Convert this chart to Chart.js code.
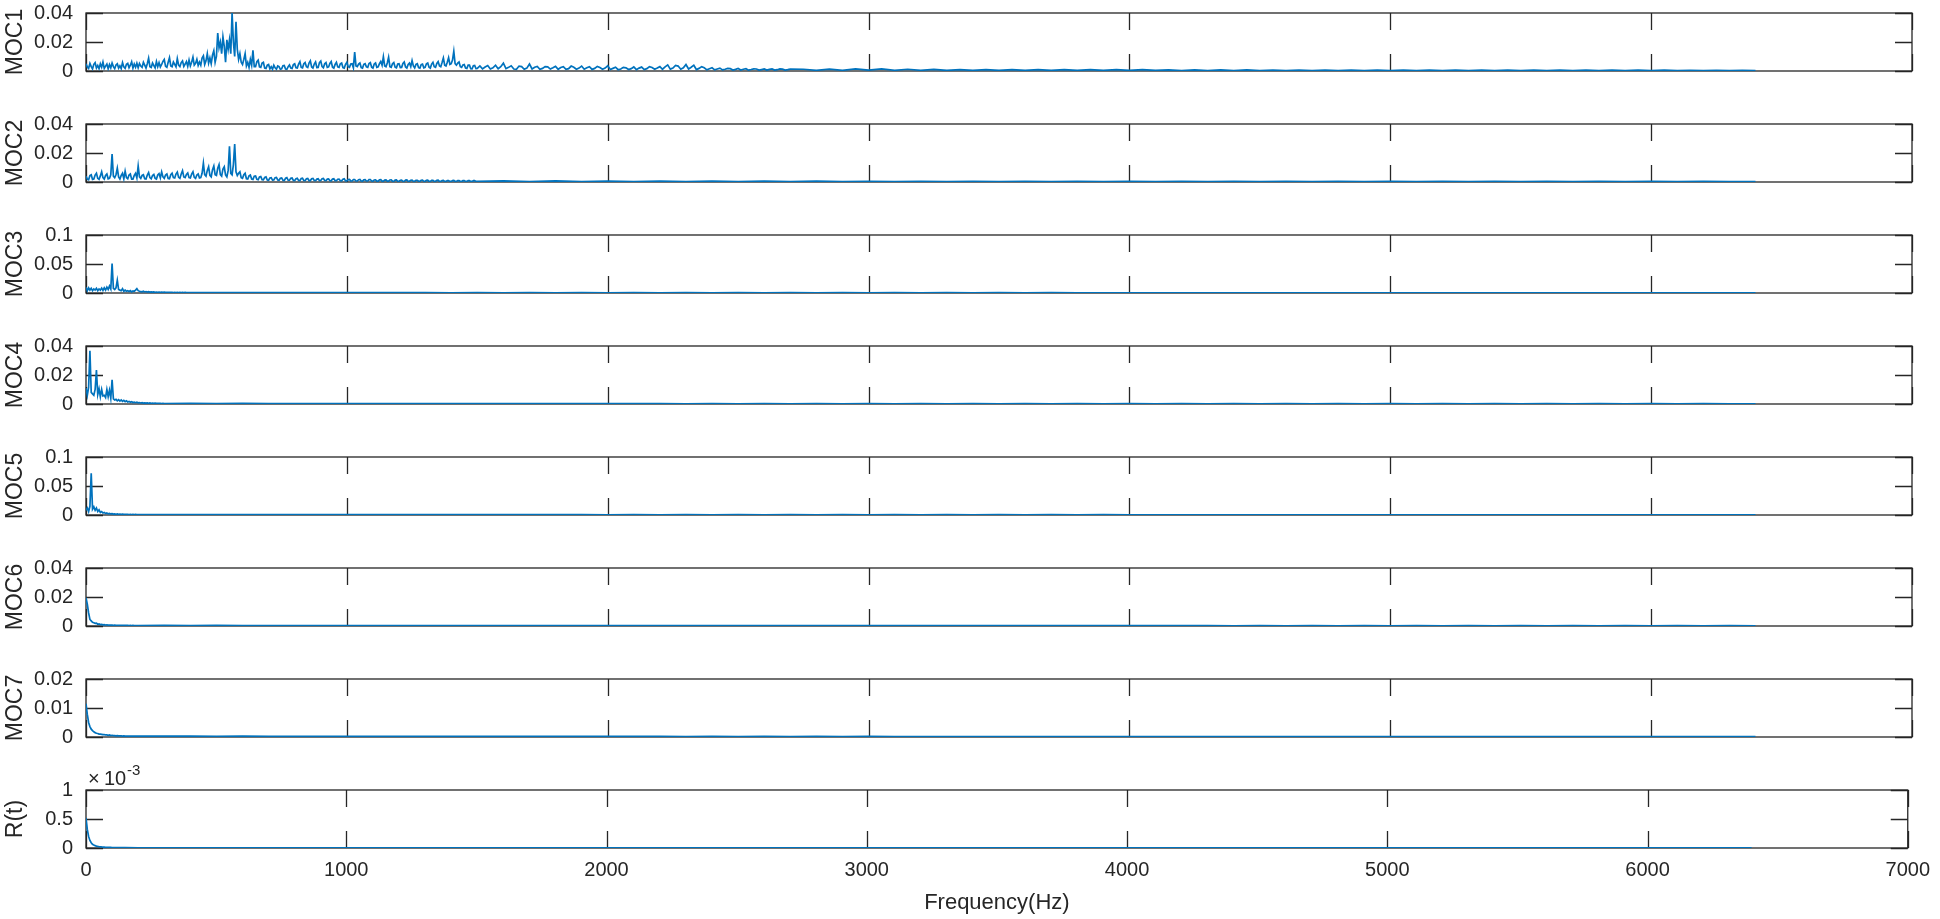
<!DOCTYPE html>
<html><head><meta charset="utf-8">
<script src="https://cdn.jsdelivr.net/npm/chart.js@4.4.1/dist/chart.umd.min.js"></script>
<style>
html,body{margin:0;padding:0;background:#fff;width:1940px;height:919px;overflow:hidden;position:relative}
.p{position:absolute;left:0;width:1940px}
canvas{display:block}
</style></head><body>
<script>
// ---------------- DATA ----------------
const panelLabels = ['MOC1','MOC2','MOC3','MOC4','MOC5','MOC6','MOC7','R(t)'];
const yMax  = [0.04, 0.04, 0.1, 0.04, 0.1, 0.04, 0.02, 1];
const yStep = [0.02, 0.02, 0.05, 0.02, 0.05, 0.02, 0.01, 0.5];
const xTickValues = [0,1000,2000,3000,4000,5000,6000,7000];
const xTitle = 'Frequency(Hz)';
const rtExponent = '-3';   // R(t) values are given in units of 10^-3

// MOC1: 0-1500 Hz every 5 Hz, 1510-2700 every 10 Hz, 2750-6400 every 50 Hz
const moc1A = [
0.0050,0.0028,0.0018,0.0052,0.0030,0.0014,0.0046,0.0058,0.0020,0.0038,
0.0016,0.0050,0.0026,0.0062,0.0018,0.0034,0.0048,0.0015,0.0044,0.0022,
0.0055,0.0030,0.0016,0.0042,0.0050,0.0020,0.0036,0.0017,0.0058,0.0028,
0.0018,0.0046,0.0052,0.0022,0.0040,0.0064,0.0020,0.0048,0.0026,0.0054,
0.0022,0.0052,0.0034,0.0025,0.0060,0.0040,0.0020,0.0050,0.0088,0.0030,
0.0025,0.0055,0.0038,0.0022,0.0065,0.0030,0.0058,0.0028,0.0045,0.0066,
0.0080,0.0032,0.0025,0.0060,0.0092,0.0035,0.0030,0.0062,0.0045,0.0028,
0.0085,0.0040,0.0030,0.0058,0.0070,0.0032,0.0048,0.0065,0.0032,0.0075,
0.0035,0.0060,0.0095,0.0040,0.0052,0.0080,0.0038,0.0062,0.0040,0.0090,
0.0105,0.0045,0.0070,0.0120,0.0055,0.0090,0.0050,0.0110,0.0140,0.0060,
0.0100,0.0262,0.0160,0.0200,0.0120,0.0235,0.0170,0.0060,0.0215,0.0150,
0.0215,0.0120,0.0400,0.0200,0.0100,0.0340,0.0150,0.0080,0.0120,0.0060,
0.0045,0.0080,0.0120,0.0035,0.0060,0.0025,0.0080,0.0040,0.0142,0.0030,
0.0030,0.0065,0.0075,0.0028,0.0025,0.0055,0.0060,0.0020,0.0018,0.0040,
0.0045,0.0015,0.0030,0.0012,0.0040,0.0022,0.0012,0.0035,0.0030,0.0012,
0.0015,0.0036,0.0038,0.0014,0.0012,0.0030,0.0042,0.0020,0.0018,0.0045,
0.0050,0.0022,0.0020,0.0048,0.0065,0.0025,0.0022,0.0050,0.0058,0.0030,
0.0025,0.0055,0.0070,0.0028,0.0020,0.0048,0.0062,0.0024,0.0025,0.0058,
0.0068,0.0030,0.0022,0.0050,0.0058,0.0025,0.0028,0.0052,0.0065,0.0026,
0.0020,0.0045,0.0060,0.0028,0.0025,0.0050,0.0055,0.0024,0.0020,0.0046,
0.0060,0.0030,0.0025,0.0048,0.0050,0.0022,0.0130,0.0035,0.0030,0.0048,
0.0055,0.0024,0.0020,0.0046,0.0050,0.0028,0.0025,0.0052,0.0058,0.0026,
0.0020,0.0048,0.0055,0.0025,0.0028,0.0050,0.0065,0.0040,0.0098,0.0035,
0.0030,0.0055,0.0095,0.0030,0.0025,0.0050,0.0058,0.0026,0.0022,0.0048,
0.0050,0.0024,0.0025,0.0052,0.0062,0.0028,0.0020,0.0045,0.0055,0.0030,
0.0072,0.0035,0.0022,0.0046,0.0050,0.0024,0.0020,0.0044,0.0048,0.0022,
0.0025,0.0050,0.0055,0.0026,0.0020,0.0048,0.0060,0.0030,0.0025,0.0052,
0.0065,0.0035,0.0030,0.0058,0.0090,0.0040,0.0035,0.0060,0.0092,0.0045,
0.0050,0.0075,0.0136,0.0050,0.0040,0.0055,0.0062,0.0030,0.0025,0.0042,
0.0045,0.0020,0.0018,0.0040,0.0040,0.0016,0.0015,0.0036,0.0038,0.0017,
0.0018];
const moc1B = [
0.0035,0.0015,0.0028,0.0038,0.0014,0.0022,0.0040,0.0016,0.0030,0.0054,
0.0016,0.0025,0.0036,0.0014,0.0012,0.0034,0.0030,0.0012,0.0020,0.0048,
0.0014,0.0026,0.0032,0.0012,0.0018,0.0030,0.0028,0.0013,0.0022,0.0032,
0.0012,0.0024,0.0030,0.0011,0.0016,0.0034,0.0026,0.0012,0.0020,0.0034,
0.0012,0.0022,0.0030,0.0011,0.0018,0.0032,0.0024,0.0012,0.0020,0.0036,
0.0010,0.0018,0.0026,0.0009,0.0014,0.0025,0.0022,0.0010,0.0016,0.0028,
0.0009,0.0020,0.0027,0.0010,0.0016,0.0030,0.0024,0.0012,0.0020,0.0030,
0.0012,0.0028,0.0042,0.0013,0.0020,0.0038,0.0034,0.0012,0.0022,0.0045,
0.0014,0.0026,0.0040,0.0010,0.0018,0.0030,0.0022,0.0008,0.0015,0.0022,
0.0008,0.0014,0.0020,0.0008,0.0012,0.0018,0.0016,0.0007,0.0011,0.0017,
0.0007,0.0012,0.0016,0.0006,0.0010,0.0015,0.0014,0.0006,0.0010,0.0014,
0.0006,0.0011,0.0014,0.0006,0.0009,0.0014,0.0013,0.0006,0.0009,0.0013];
const moc1C = [0.0012,0.0005,0.0013,0.0005,0.0014,0.0006,0.0015,0.0005,0.0012,0.0005,
0.0011,0.0004,0.0010,0.0004,0.0010,0.0004,0.0009,0.0004,0.0010,0.0004,
0.0009,0.0004,0.0009,0.0004,0.0010,0.0004,0.0009,0.0004,0.0008,0.0003,
0.0008,0.0003,0.0008,0.0003,0.0008,0.0003,0.0007,0.0003,0.0007,0.0003,
0.0007,0.0003,0.0007,0.0003,0.0007,0.0003,0.0007,0.0003,0.0006,0.0003,
0.0006,0.0003,0.0006,0.0003,0.0006,0.0003,0.0006,0.0003,0.0006,0.0003,
0.0006,0.0003,0.0006,0.0003,0.0006,0.0003,0.0006,0.0003,0.0005,0.0003,
0.0005,0.0003,0.0005,0.0003];

// MOC2: 0-1500 Hz every 5 Hz, 1600-6400 every 100 Hz
const moc2A = [
0.0040,0.0020,0.0015,0.0045,0.0050,0.0018,0.0020,0.0048,0.0060,0.0025,
0.0018,0.0042,0.0070,0.0030,0.0020,0.0045,0.0055,0.0022,0.0025,0.0050,
0.0193,0.0040,0.0030,0.0050,0.0095,0.0035,0.0020,0.0045,0.0060,0.0022,
0.0075,0.0030,0.0022,0.0048,0.0055,0.0020,0.0020,0.0045,0.0060,0.0028,
0.0110,0.0035,0.0025,0.0045,0.0050,0.0022,0.0020,0.0048,0.0065,0.0030,
0.0022,0.0045,0.0052,0.0025,0.0020,0.0048,0.0058,0.0028,0.0070,0.0035,
0.0025,0.0048,0.0055,0.0024,0.0022,0.0050,0.0060,0.0030,0.0028,0.0055,
0.0068,0.0032,0.0025,0.0055,0.0078,0.0035,0.0030,0.0052,0.0062,0.0030,
0.0028,0.0055,0.0070,0.0032,0.0025,0.0048,0.0055,0.0028,0.0030,0.0060,
0.0130,0.0050,0.0040,0.0080,0.0105,0.0045,0.0035,0.0085,0.0110,0.0050,
0.0045,0.0095,0.0120,0.0050,0.0040,0.0090,0.0105,0.0048,0.0035,0.0080,
0.0246,0.0060,0.0050,0.0120,0.0261,0.0070,0.0045,0.0060,0.0070,0.0030,
0.0025,0.0050,0.0060,0.0022,0.0020,0.0042,0.0048,0.0020,0.0018,0.0040,
0.0042,0.0018,0.0015,0.0035,0.0038,0.0016,0.0015,0.0032,0.0035,0.0014,
0.0012,0.0028,0.0030,0.0013,0.0014,0.0030,0.0032,0.0014,0.0012,0.0026,
0.0028,0.0012,0.0010,0.0026,0.0030,0.0012,0.0012,0.0025,0.0027,0.0011,
0.0010,0.0022,0.0025,0.0011,0.0010,0.0024,0.0026,0.0010,0.0009,0.0022,
0.0024,0.0010,0.0010,0.0023,0.0025,0.0010,0.0009,0.0020,0.0022,0.0009,
0.0010,0.0022,0.0024,0.0010,0.0009,0.0020,0.0021,0.0009,0.0008,0.0020,
0.0022,0.0009,0.0009,0.0019,0.0020,0.0009,0.0008,0.0019,0.0022,0.0008,
0.0008,0.0017,0.0018,0.0008,0.0007,0.0016,0.0017,0.0007,0.0007,0.0016,
0.0018,0.0007,0.0006,0.0015,0.0016,0.0007,0.0007,0.0016,0.0017,0.0007,
0.0006,0.0014,0.0015,0.0006,0.0006,0.0015,0.0016,0.0006,0.0006,0.0013,
0.0014,0.0006,0.0006,0.0014,0.0015,0.0006,0.0005,0.0013,0.0014,0.0005,
0.0006,0.0012,0.0013,0.0005,0.0005,0.0013,0.0014,0.0005,0.0005,0.0012,
0.0013,0.0005,0.0005,0.0012,0.0012,0.0005,0.0005,0.0012,0.0013,0.0005,
0.0005,0.0011,0.0012,0.0004,0.0004,0.0011,0.0011,0.0004,0.0005,0.0011,
0.0012,0.0004,0.0004,0.0010,0.0011,0.0004,0.0004,0.0010,0.0010,0.0004,
0.0004,0.0010,0.0011,0.0004,0.0004,0.0010,0.0010,0.0004,0.0004,0.0009,
0.0010,0.0004,0.0004,0.0009,0.0009,0.0004,0.0004,0.0009,0.0009,0.0004,
0.0004];
const moc2B = [0.0008,0.0003,0.0008,0.0003,0.0007,0.0003,0.0007,0.0003,0.0006,0.0002,
0.0006,0.0002,0.0006,0.0002,0.0005,0.0002,0.0005,0.0002,0.0005,0.0002,
0.0005,0.0002,0.0005,0.0002,0.0004,0.0002,0.0004,0.0002,0.0004,0.0002,
0.0004,0.0002,0.0004,0.0002,0.0004,0.0002,0.0004,0.0002,0.0004,0.0002,
0.0004,0.0002,0.0004,0.0002,0.0004,0.0002,0.0004,0.0002,0.0003];

// MOC3: 0-400 Hz every 5 Hz, 500-6400 every 100 Hz
const moc3A = [0.0100,0.0040,0.0090,0.0050,0.0080,0.0040,0.0070,0.0050,0.0080,0.0040,
0.0070,0.0050,0.0085,0.0045,0.0090,0.0050,0.0100,0.0060,0.0120,0.0070,
0.0510,0.0080,0.0060,0.0090,0.0220,0.0060,0.0050,0.0040,0.0075,0.0030,
0.0050,0.0030,0.0040,0.0025,0.0040,0.0020,0.0035,0.0030,0.0050,0.0075,
0.0040,0.0030,0.0025,0.0020,0.0030,0.0018,0.0025,0.0016,0.0022,0.0015,
0.0020,0.0014,0.0018,0.0013,0.0017,0.0012,0.0016,0.0012,0.0015,0.0011,
0.0014,0.0011,0.0013,0.0010,0.0013,0.0010,0.0012,0.0009,0.0012,0.0009,
0.0011,0.0009,0.0011,0.0008,0.0010,0.0008,0.0010,0.0008,0.0009,0.0007,
0.0009];
const moc3B = [0.0009,0.0006,0.0008,0.0005,0.0008,0.0005,0.0007,0.0005,0.0007,0.0004,
0.0007,0.0004,0.0006,0.0004,0.0006,0.0004,0.0006,0.0004,0.0006,0.0004,
0.0005,0.0004,0.0005,0.0003,0.0005,0.0003,0.0005,0.0003,0.0005,0.0003,
0.0005,0.0003,0.0005,0.0003,0.0004,0.0003,0.0004,0.0003,0.0004,0.0003,
0.0004,0.0003,0.0004,0.0003,0.0004,0.0003,0.0004,0.0003,0.0004,0.0003,
0.0004,0.0003,0.0004,0.0003,0.0004,0.0003,0.0004,0.0003,0.0004,0.0003];

// MOC4: 0-300 Hz every 5 Hz, 400-6400 every 100 Hz
const moc4A = [0.0110,0.0060,0.0115,0.0367,0.0080,0.0070,0.0060,0.0100,0.0234,0.0065,
0.0105,0.0050,0.0100,0.0055,0.0060,0.0045,0.0100,0.0050,0.0095,0.0040,
0.0167,0.0035,0.0028,0.0032,0.0022,0.0030,0.0020,0.0028,0.0018,0.0025,
0.0016,0.0022,0.0014,0.0018,0.0012,0.0016,0.0010,0.0013,0.0009,0.0012,
0.0008,0.0010,0.0007,0.0009,0.0006,0.0008,0.0006,0.0007,0.0005,0.0007,
0.0005,0.0006,0.0004,0.0006,0.0004,0.0005,0.0004,0.0005,0.0003,0.0005,
0.0003];
const moc4B = [0.0004,0.0003,0.0004,0.0003,0.0003,0.0002,0.0003,0.0002,0.0003,0.0002,
0.0003,0.0002,0.0003,0.0002,0.0003,0.0002,0.0002,0.0002,0.0002,0.0001,
0.0002,0.0001,0.0002,0.0001,0.0002,0.0001,0.0002,0.0001,0.0002,0.0001,
0.0002,0.0001,0.0002,0.0001,0.0002,0.0001,0.0002,0.0001,0.0002,0.0001,
0.0002,0.0001,0.0002,0.0001,0.0002,0.0001,0.0002,0.0001,0.0002,0.0001,
0.0002,0.0001,0.0002,0.0001,0.0002,0.0001,0.0002,0.0001,0.0002,0.0001,
0.0001];

// MOC5: 0-200 Hz every 5 Hz, 300-6400 every 100 Hz
const moc5A = [0.0080,0.0120,0.0060,0.0150,0.0720,0.0100,0.0140,0.0080,0.0120,0.0060,
0.0090,0.0045,0.0060,0.0035,0.0045,0.0025,0.0035,0.0020,0.0028,0.0018,
0.0022,0.0015,0.0020,0.0013,0.0018,0.0012,0.0016,0.0011,0.0014,0.0010,
0.0013,0.0010,0.0012,0.0009,0.0011,0.0009,0.0010,0.0008,0.0010,0.0008,
0.0009];
const moc5B = [0.0008,0.0007,0.0008,0.0006,0.0007,0.0006,0.0007,0.0005,0.0006,0.0005,
0.0006,0.0005,0.0006,0.0005,0.0006,0.0005,0.0005,0.0004,0.0005,0.0004,
0.0005,0.0004,0.0005,0.0004,0.0005,0.0004,0.0005,0.0004,0.0005,0.0004,
0.0005,0.0004,0.0005,0.0004,0.0005,0.0004,0.0005,0.0004,0.0004,0.0004,
0.0004,0.0003,0.0004,0.0003,0.0004,0.0003,0.0004,0.0003,0.0004,0.0003,
0.0004,0.0003,0.0004,0.0003,0.0004,0.0003,0.0004,0.0003,0.0004,0.0003,
0.0004,0.0003];

// MOC6: 0-200 Hz every 5 Hz, 300-6400 every 100 Hz
const moc6A = [0.0195,0.0150,0.0090,0.0045,0.0035,0.0025,0.0022,0.0018,0.0020,0.0012,
0.0014,0.0010,0.0011,0.0008,0.0009,0.0007,0.0008,0.0006,0.0007,0.0006,
0.0006,0.0005,0.0006,0.0005,0.0005,0.0004,0.0005,0.0004,0.0005,0.0004,
0.0004,0.0004,0.0004,0.0003,0.0004,0.0003,0.0004,0.0003,0.0003,0.0003,
0.0003];
const moc6B = [0.0004,0.0003,0.0004,0.0003,0.0003,0.0003,0.0003,0.0002,0.0003,0.0002,
0.0003,0.0002,0.0003,0.0002,0.0003,0.0002,0.0003,0.0002,0.0003,0.0002,
0.0003,0.0002,0.0003,0.0002,0.0003,0.0002,0.0002,0.0002,0.0002,0.0002,
0.0002,0.0002,0.0002,0.0002,0.0002,0.0002,0.0002,0.0002,0.0002,0.0002,
0.0002,0.0001,0.0002,0.0001,0.0002,0.0001,0.0002,0.0001,0.0002,0.0001,
0.0002,0.0001,0.0002,0.0001,0.0002,0.0001,0.0002,0.0001,0.0002,0.0001,
0.0002,0.0001];

// MOC7: 0-150 Hz every 5 Hz, 200-6400 every 100 Hz
const moc7A = [0.0115,0.0078,0.0050,0.0036,0.0027,0.0022,0.0018,0.0015,0.0013,0.0012,
0.0010,0.0010,0.0009,0.0008,0.0008,0.0007,0.0007,0.0006,0.0007,0.0005,
0.0006,0.0005,0.0005,0.0004,0.0005,0.0004,0.0004,0.0004,0.0003,0.0004,
0.0003];
const moc7B = [0.0003,0.0003,0.0003,0.0002,0.0003,0.0002,0.0002,0.0002,0.0002,0.0002,
0.0002,0.0002,0.0002,0.0002,0.0002,0.0002,0.0002,0.0002,0.0002,0.0002,
0.0002,0.0001,0.0002,0.0001,0.0002,0.0001,0.0002,0.0001,0.0002,0.0001,
0.0001,0.0001,0.0001,0.0001,0.0001,0.0001,0.0001,0.0001,0.0001,0.0001,
0.0001,0.0001,0.0001,0.0001,0.0001,0.0001,0.0001,0.0001,0.0001,0.0001,
0.0001,0.0001,0.0001,0.0001,0.0001,0.0001,0.0001,0.0001,0.0001,0.0001,
0.0001,0.0001,0.0001];

// R(t) (x10^-3): 0-150 Hz every 5 Hz, 200-6400 every 100 Hz
const rtA = [0.52,0.32,0.20,0.13,0.09,0.065,0.05,0.04,0.033,0.028,
0.024,0.021,0.018,0.016,0.015,0.013,0.012,0.011,0.010,0.010,
0.009,0.008,0.008,0.007,0.007,0.006,0.006,0.006,0.005,0.005,
0.005];
const rtB = [0.004,0.004,0.004,0.003,0.004,0.003,0.003,0.003,0.003,0.003,
0.003,0.003,0.003,0.003,0.003,0.003,0.003,0.003,0.003,0.003,
0.003,0.002,0.003,0.002,0.003,0.002,0.003,0.002,0.003,0.002,
0.002,0.002,0.002,0.002,0.002,0.002,0.002,0.002,0.002,0.002,
0.002,0.002,0.002,0.002,0.002,0.002,0.002,0.002,0.002,0.002,
0.002,0.002,0.002,0.002,0.002,0.002,0.002,0.002,0.002,0.002,
0.002,0.002,0.002];

// frequency bins: (start Hz, bin width Hz, values)
function bins(start, width, values){ return values.map((v,i)=>({x:start+i*width, y:v})); }
const series = [
  [...bins(0,5,moc1A), ...bins(1510,10,moc1B), ...bins(2750,50,moc1C)],
  [...bins(0,5,moc2A), ...bins(1600,100,moc2B)],
  [...bins(0,5,moc3A), ...bins(500,100,moc3B)],
  [...bins(0,5,moc4A), ...bins(400,100,moc4B)],
  [...bins(0,5,moc5A), ...bins(300,100,moc5B)],
  [...bins(0,5,moc6A), ...bins(300,100,moc6B)],
  [...bins(0,5,moc7A), ...bins(200,100,moc7B)],
  [...bins(0,5,rtA), ...bins(200,100,rtB)]
];

// ---------------- LAYOUT / STYLE ----------------
const FONT = '"Liberation Sans", Arial, Helvetica, sans-serif';
const INK = '#262626';
const LINE = '#0072BD';
const TICK_LEN = 17;
const PANEL_TOP0 = 13, PANEL_GAP = 111, PANEL_H = 58;
const PAD = 32;

// axes box and inward ticks drawn beneath the data (MATLAB default layer)
const framePlugin = {
  id: 'frame',
  beforeDatasetsDraw(chart, args, opts) {
    const {ctx, chartArea} = chart;
    const {left, right, top, bottom} = chartArea;
    const xs = chart.scales.x, ys = chart.scales.y;
    ctx.save();
    ctx.strokeStyle = INK;
    ctx.lineWidth = 1.3;
    ctx.beginPath();
    xTickValues.forEach(v => {
      const px = Math.round(xs.getPixelForValue(v)) + 0.5;
      ctx.moveTo(px, top); ctx.lineTo(px, top + TICK_LEN);
      ctx.moveTo(px, bottom); ctx.lineTo(px, bottom - TICK_LEN);
    });
    ys.ticks.forEach(t => {
      const py = Math.round(ys.getPixelForValue(t.value)) + 0.5;
      ctx.moveTo(left, py); ctx.lineTo(left + TICK_LEN, py);
      ctx.moveTo(right, py); ctx.lineTo(right - TICK_LEN, py);
    });
    ctx.stroke();
    ctx.strokeRect(left, top, right - left, bottom - top);
    if (opts && opts.exponent) {
      ctx.fillStyle = INK;
      ctx.textBaseline = 'alphabetic';
      ctx.textAlign = 'left';
      ctx.font = '20px ' + FONT;
      ctx.fillText('\u00d7', left + 2, top - 5);
      ctx.fillText('10', left + 18, top - 5);
      ctx.font = '15px ' + FONT;
      ctx.fillText(opts.exponent, left + 41, top - 15);
    }
    ctx.restore();
  }
};

function fmt(v){ return String(Number(v.toFixed(6))); }

panelLabels.forEach((label, i) => {
  const last = i === panelLabels.length - 1;
  const xAxisH = 71;
  const panelTop = PANEL_TOP0 + i * PANEL_GAP;
  const divTop = panelTop - PAD;
  const h = last ? (919 - divTop) : (PANEL_H + 2 * PAD);
  const div = document.createElement('div');
  div.className = 'p';
  div.style.top = divTop + 'px';
  div.style.height = h + 'px';
  const cv = document.createElement('canvas');
  cv.width = 1940; cv.height = h;
  cv.style.width = '1940px'; cv.style.height = h + 'px';
  div.appendChild(cv);
  document.body.appendChild(div);

  const xScale = {
    type: 'linear', min: 0, max: 7000,
    display: last,
    afterBuildTicks: s => { s.ticks = xTickValues.map(v => ({value: v})); },
    ticks: { font: { family: FONT, size: 20 }, color: INK, padding: 10, maxRotation: 0, autoSkip: false,
             callback: v => String(v) },
    grid: { display: false, drawTicks: false },
    border: { display: false },
    title: { display: last, text: xTitle, color: INK, font: { family: FONT, size: 22 }, padding: { top: 0, bottom: 3 } }
  };
  if (last) xScale.afterFit = s => { s.height = xAxisH; };

  new Chart(cv.getContext('2d'), {
    type: 'line',
    data: { datasets: [{
      label: label,
      data: series[i],
      borderColor: LINE,
      borderWidth: 1.7,
      pointRadius: 0,
      tension: 0,
      fill: false
    }]},
    options: {
      responsive: false,
      animation: false,
      devicePixelRatio: 1,
      events: [],
      layout: { padding: { top: PAD, bottom: last ? 0 : PAD, left: 0, right: 28 } },
      plugins: { legend: { display: false }, tooltip: { enabled: false },
                 frame: { exponent: last ? rtExponent : null } },
      scales: {
        x: xScale,
        y: {
          type: 'linear', min: 0, max: yMax[i],
          afterBuildTicks: s => {
            const t = [];
            for (let k = 0; k <= 2; k++) t.push({value: k * yStep[i]});
            s.ticks = t;
          },
          ticks: { font: { family: FONT, size: 20 }, color: INK, padding: 13, callback: v => fmt(v) },
          grid: { display: false, drawTicks: false },
          border: { display: false },
          title: { display: true, text: label, color: INK, font: { family: FONT, size: 23 }, padding: { top: 2, bottom: 0 } },
          afterFit: s => { s.width = 86; }
        }
      }
    },
    plugins: [framePlugin]
  });
});
</script>
</body></html>
